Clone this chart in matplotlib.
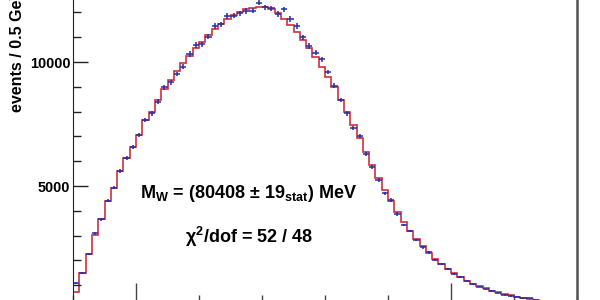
import numpy as np
import matplotlib
matplotlib.use("Agg")
import matplotlib.pyplot as plt
from matplotlib.ticker import MultipleLocator

plt.rcParams["font.family"] = ["Liberation Sans", "DejaVu Sans"]
plt.rcParams["mathtext.fontset"] = "custom"
plt.rcParams["mathtext.rm"] = "Liberation Sans:bold"
plt.rcParams["mathtext.it"] = "Liberation Sans:bold"
plt.rcParams["mathtext.bf"] = "Liberation Sans:bold"

# 80 bins of 0.5 GeV
X_MIN, X_MAX, BIN_W = 45.0, 85.0, 0.5

# fitted template (red histogram)
fit_values = [
    738, 1504, 2270, 3024, 3669, 4407, 4931, 5617, 6117, 6585,
    7056, 7661, 7996, 8467, 8899, 9274, 9649, 9947, 10241, 10552,
    10818, 11088, 11318, 11520, 11721, 11894, 12015, 12124, 12189, 12229,
    12205, 12124, 11963, 11721, 11491, 11197, 10886, 10552, 10189, 9810,
    9383, 8979, 8467, 7996, 7459, 6935, 6371, 5846, 5322, 4838,
    4395, 3951, 3548, 3185, 2863, 2580, 2298, 2056, 1855, 1653,
    1492, 1331, 1189, 1068, 968, 867, 786, 706, 645, 585,
    524, 484, 444, 403, 363, 331, 302, 274, 250, 230,
]

# pseudo data (blue points)
data_values = [
    1077, 1504, 2270, 3093, 3669, 4407, 4931, 5617, 6117, 6585,
    7056, 7661, 7931, 8399, 8979, 9181, 9516, 9810, 10322, 10685,
    10713, 11020, 11451, 11520, 11854, 11866, 11963, 12056, 12068, 12390,
    12205, 12165, 11935, 12124, 11733, 11451, 10995, 10644, 10374, 10108,
    9596, 9044, 8467, 7931, 7326, 7016, 6290, 5778, 5242, 4705,
    4435, 3871, 3427, 3185, 2822, 2528, 2326, 2016, 1855, 1641,
    1452, 1318, 1181, 1036, 939, 835, 778, 698, 605, 565,
    536, 484, 464, 403, 363, 323, 302, 282, 242, 222,
]

mass_text = r"M$_{\rm W}$ = (80408 $\pm$ 19$_{\rm stat}$) MeV"
chi2_text = "\u03c7$^{2}$/dof = 52 / 48"
y_label = "events / 0.5 GeV"

RED = "#d0303f"
BLUE = "#2a2aa8"


def main():
    edges = np.arange(X_MIN, X_MAX + BIN_W / 2, BIN_W)
    centers = 0.5 * (edges[:-1] + edges[1:])
    data = np.array(data_values, dtype=float)

    fig = plt.figure(figsize=(6, 3), dpi=100)
    ax = fig.add_axes([73 / 600, -10 / 300, 504 / 600, 322.4 / 300])

    ax.stairs(fit_values, edges, color=RED, linewidth=1.2)
    ax.errorbar(centers, data, xerr=BIN_W / 2, yerr=np.sqrt(data),
                fmt="none", ecolor=BLUE, elinewidth=1.1, capsize=0)

    ax.set_xlim(X_MIN, X_MAX)
    ax.set_ylim(0, 13000)

    ax.xaxis.set_major_locator(MultipleLocator(25))
    ax.xaxis.set_minor_locator(MultipleLocator(5))
    ax.yaxis.set_major_locator(MultipleLocator(5000))
    ax.yaxis.set_minor_locator(MultipleLocator(1000))
    ax.tick_params(axis="x", which="major", direction="in", length=19.5,
                   width=1, color="#444444", labelbottom=False)
    ax.tick_params(axis="x", which="minor", direction="in", length=11,
                   width=1, color="#444444")
    ax.tick_params(axis="y", which="major", direction="in", length=11,
                   width=1, color="#222222", pad=2, labelsize=10.4)
    ax.tick_params(axis="y", which="minor", direction="in", length=6,
                   width=1, color="#222222")
    for lab in ax.get_yticklabels():
        lab.set_fontweight("bold")
    ax.set_yticks([5000, 10000])
    ax.set_yticklabels(["5000", "10000"], fontweight="bold")

    ax.spines["left"].set_color("#222222")
    ax.spines["right"].set_color("#555555")
    ax.spines["right"].set_linewidth(1.8)

    fig.text(18 / 600, 1 - 112 / 300, y_label, rotation=90, ha="center",
             va="bottom", fontsize=11.5, fontweight="bold")
    fig.text(248 / 600, 1 - 198 / 300, mass_text, ha="center",
             va="baseline", fontsize=13, fontweight="bold")
    fig.text(249 / 600, 1 - 243 / 300, chi2_text, ha="center",
             va="baseline", fontsize=13, fontweight="bold")

    fig.savefig("out.png", dpi=100)


if __name__ == "__main__":
    main()
